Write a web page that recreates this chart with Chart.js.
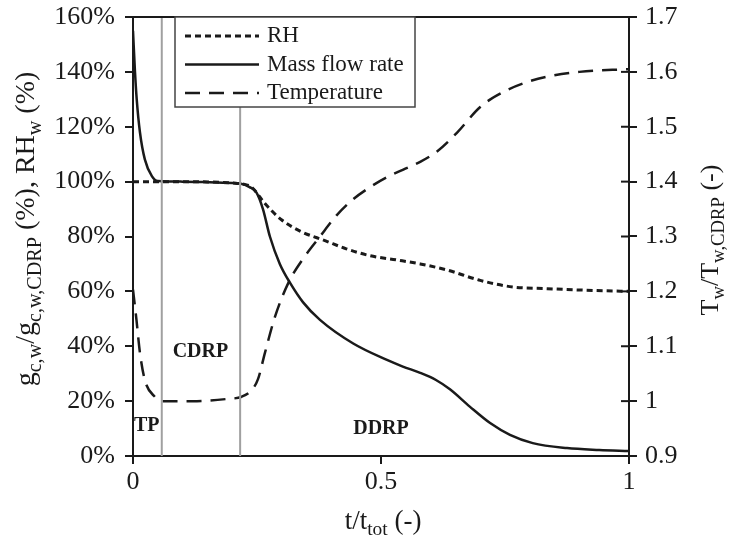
<!DOCTYPE html>
<html>
<head>
<meta charset="utf-8">
<script src="https://cdn.jsdelivr.net/npm/chart.js@4"></script>
<style>
  body { margin: 0; background: #fff; }
  #wrap { width: 731px; height: 543px; }
</style>
</head>
<body>
<div id="wrap"><canvas id="chart"></canvas></div>
<script>
// t/t_tot values and readings for each curve
const massT = [0, 0.004, 0.0075, 0.014, 0.024, 0.038, 0.05, 0.1, 0.15, 0.2, 0.216, 0.235, 0.249, 0.262, 0.276, 0.296, 0.317, 0.343, 0.377, 0.444, 0.512, 0.544, 0.579, 0.61, 0.639, 0.679, 0.72, 0.76, 0.806, 0.875, 0.94, 1.0];
const massVal = [155, 140, 130, 118, 108, 102, 100.2, 100, 99.8, 99.5, 99.3, 98, 96, 90, 80, 70, 63, 56, 49.6, 41, 35, 32.6, 30.3, 27.8, 24.3, 18, 12, 7.7, 4.7, 2.9, 2.2, 1.8];

const rhT = [0, 0.1, 0.2, 0.225, 0.239, 0.266, 0.3, 0.34, 0.387, 0.43, 0.478, 0.53, 0.579, 0.633, 0.7, 0.766, 0.834, 0.9, 1.0];
const rhVal = [100, 100, 99.5, 99, 98, 92, 86, 81.7, 78.5, 75.5, 73, 71.5, 70, 67.8, 64, 61.6, 61, 60.5, 60];

const tempT = [0, 0.007, 0.014, 0.024, 0.044, 0.06, 0.12, 0.19, 0.219, 0.239, 0.252, 0.266, 0.286, 0.313, 0.345, 0.377, 0.41, 0.444, 0.478, 0.512, 0.545, 0.579, 0.613, 0.653, 0.7, 0.746, 0.79, 0.834, 0.9, 1.0];
const tempVal = [1.203, 1.148, 1.088, 1.038, 1.008, 1.0, 1.0, 1.004, 1.008, 1.02, 1.04, 1.088, 1.153, 1.215, 1.262, 1.3, 1.338, 1.368, 1.39, 1.408, 1.422, 1.436, 1.455, 1.489, 1.536, 1.563, 1.58, 1.591, 1.6, 1.605];

// phase boundaries (TP | CDRP | DDRP)
const phaseBounds = [0.058, 0.216];
const phaseLabels = ['TP', 'CDRP', 'DDRP'];
const phaseLabelX = [0.002, 0.08, 0.444];
const phaseLabelY = [11, 38, 10];

const leftTicks = [0, 20, 40, 60, 80, 100, 120, 140, 160];
const rightTicks = [0.9, 1.0, 1.1, 1.2, 1.3, 1.4, 1.5, 1.6, 1.7];
const xTicks = [0, 0.5, 1];

const legendNames = ['RH', 'Mass flow rate', 'Temperature'];

const serif = "'Liberation Serif', 'DejaVu Serif', serif";
const ink = '#1a1a1a';
const subRatio = 0.72;

function pts(xs, ys) {
  return xs.map((x, i) => ({ x: x, y: ys[i] }));
}

// text with subscripts; parts = [[text, isSub], ...]
function richWidth(ctx, parts, size) {
  let w = 0;
  parts.forEach(p => {
    ctx.font = (p[1] ? size * subRatio : size) + 'px ' + serif;
    w += ctx.measureText(p[0]).width;
  });
  return w;
}

function drawRich(ctx, parts, x, y, size) {
  let cx = x - richWidth(ctx, parts, size) / 2;
  ctx.textAlign = 'left';
  ctx.textBaseline = 'middle';
  parts.forEach(p => {
    const s = p[1] ? size * subRatio : size;
    ctx.font = s + 'px ' + serif;
    ctx.fillText(p[0], cx, p[1] ? y + size * 0.3 : y);
    cx += ctx.measureText(p[0]).width;
  });
}

const decorPlugin = {
  id: 'decor',
  afterDraw(chart) {
    const ctx = chart.ctx;
    const a = chart.chartArea;
    const xs = chart.scales.x;
    const yl = chart.scales.y;
    const yr = chart.scales.y1;
    ctx.save();
    ctx.fillStyle = ink;
    ctx.strokeStyle = ink;

    // top frame line
    ctx.lineWidth = 2;
    ctx.beginPath();
    ctx.moveTo(a.left, a.top);
    ctx.lineTo(a.right, a.top);
    ctx.stroke();

    // inner half of the right ticks (they cross the axis)
    rightTicks.forEach(v => {
      const py = yr.getPixelForValue(v);
      ctx.beginPath();
      ctx.moveTo(a.right - 8, py);
      ctx.lineTo(a.right, py);
      ctx.stroke();
    });

    // phase labels
    ctx.font = 'bold 20px ' + serif;
    ctx.textAlign = 'left';
    ctx.textBaseline = 'middle';
    phaseLabels.forEach((t, i) => {
      ctx.fillText(t, xs.getPixelForValue(phaseLabelX[i]), yl.getPixelForValue(phaseLabelY[i]));
    });

    // legend box
    const lx = 175, ly = 17, lw = 240, lh = 90;
    ctx.fillStyle = '#fff';
    ctx.fillRect(lx, ly, lw, lh);
    ctx.strokeStyle = '#444';
    ctx.lineWidth = 1.5;
    ctx.strokeRect(lx, ly, lw, lh);
    const dashes = [[6, 4], [], [15, 9]];
    const widths = [3, 2.5, 2.5];
    ctx.strokeStyle = ink;
    legendNames.forEach((n, i) => {
      const yy = 36 + i * 28.5;
      ctx.setLineDash(dashes[i]);
      ctx.lineWidth = widths[i];
      ctx.beginPath();
      ctx.moveTo(185, yy);
      ctx.lineTo(259, yy);
      ctx.stroke();
      ctx.setLineDash([]);
      ctx.fillStyle = ink;
      ctx.font = '23px ' + serif;
      ctx.textAlign = 'left';
      ctx.textBaseline = 'middle';
      ctx.fillText(n, 267, yy);
    });

    // axis titles
    ctx.fillStyle = ink;
    drawRich(ctx, [['t/t', false], ['tot', true], [' (-)', false]], 383, 522, 27);

    ctx.save();
    ctx.translate(27, 229);
    ctx.rotate(-Math.PI / 2);
    drawRich(ctx, [['g', false], ['c,w', true], ['/g', false], ['c,w,CDRP', true], [' (%), RH', false], ['w', true], [' (%)', false]], 0, 0, 28);
    ctx.restore();

    ctx.save();
    ctx.translate(711, 240);
    ctx.rotate(-Math.PI / 2);
    drawRich(ctx, [['T', false], ['w', true], ['/T', false], ['w,CDRP', true], [' (-)', false]], 0, 0, 26);
    ctx.restore();

    ctx.restore();
  }
};

const tickFont = { family: serif, size: 26 };

function noPad(s) {
  s.paddingTop = 0;
  s.paddingBottom = 0;
  s.paddingLeft = 0;
  s.paddingRight = 0;
}

const config = {
  type: 'line',
  data: {
    datasets: [
      {
        label: 'bound1',
        data: pts([phaseBounds[0], phaseBounds[0]], [0, 160]),
        borderColor: '#a0a0a0',
        borderWidth: 2,
        pointRadius: 0,
        yAxisID: 'y'
      },
      {
        label: 'bound2',
        data: pts([phaseBounds[1], phaseBounds[1]], [0, 160]),
        borderColor: '#a0a0a0',
        borderWidth: 2,
        pointRadius: 0,
        yAxisID: 'y'
      },
      {
        label: legendNames[0],
        data: pts(rhT, rhVal),
        borderColor: ink,
        borderWidth: 3,
        borderDash: [6, 4],
        pointRadius: 0,
        cubicInterpolationMode: 'monotone',
        yAxisID: 'y'
      },
      {
        label: legendNames[1],
        data: pts(massT, massVal),
        borderColor: ink,
        borderWidth: 2.5,
        pointRadius: 0,
        cubicInterpolationMode: 'monotone',
        yAxisID: 'y'
      },
      {
        label: legendNames[2],
        data: pts(tempT, tempVal),
        borderColor: ink,
        borderWidth: 2.5,
        borderDash: [15, 9],
        pointRadius: 0,
        cubicInterpolationMode: 'monotone',
        yAxisID: 'y1'
      }
    ]
  },
  options: {
    responsive: true,
    maintainAspectRatio: false,
    animation: false,
    events: [],
    layout: { padding: { top: 17, left: 0, right: 0, bottom: 0 } },
    plugins: {
      legend: { display: false },
      tooltip: { enabled: false }
    },
    scales: {
      x: {
        type: 'linear',
        min: 0,
        max: 1,
        afterBuildTicks: s => { s.ticks = xTicks.map(v => ({ value: v })); },
        afterFit: s => { s.height = 87; noPad(s); },
        border: { display: true, color: ink, width: 2 },
        grid: { drawOnChartArea: false, drawTicks: true, tickLength: 8, color: ink, lineWidth: 2 },
        ticks: { color: ink, font: tickFont, padding: 3, maxRotation: 0, callback: v => String(v) }
      },
      y: {
        position: 'left',
        min: 0,
        max: 160,
        afterBuildTicks: s => { s.ticks = leftTicks.map(v => ({ value: v })); },
        afterFit: s => { s.width = 133; noPad(s); },
        border: { display: true, color: ink, width: 2 },
        grid: { drawOnChartArea: false, drawTicks: true, tickLength: 8, color: ink, lineWidth: 2 },
        ticks: { color: ink, font: tickFont, padding: 10, callback: v => v + '%' }
      },
      y1: {
        position: 'right',
        min: 0.9,
        max: 1.7,
        afterBuildTicks: s => { s.ticks = rightTicks.map(v => ({ value: v })); },
        afterFit: s => { s.width = 102; noPad(s); },
        border: { display: true, color: ink, width: 2 },
        grid: { drawOnChartArea: false, drawTicks: true, tickLength: 8, color: ink, lineWidth: 2 },
        ticks: { color: ink, font: tickFont, padding: 8, callback: v => String(Math.round(v * 10) / 10) }
      }
    }
  },
  plugins: [decorPlugin]
};

const chart = new Chart(document.getElementById('chart'), config);
</script>
</body>
</html>
